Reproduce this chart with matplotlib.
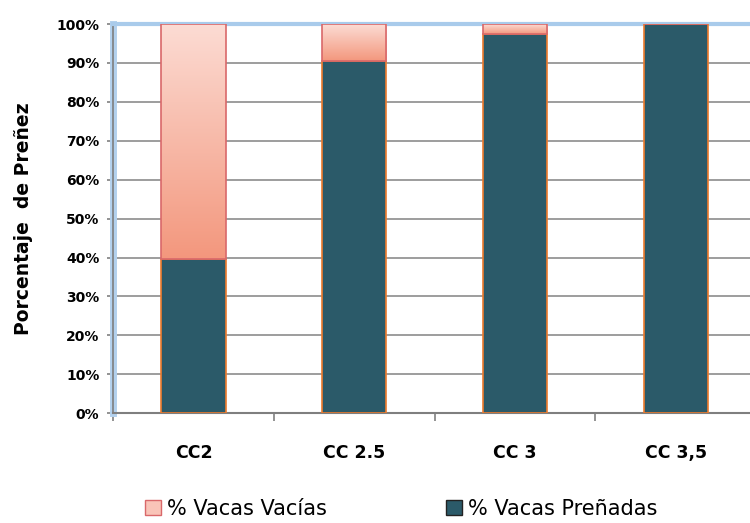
import numpy as np
import matplotlib
matplotlib.use("Agg")
import matplotlib.pyplot as plt
from matplotlib.colors import LinearSegmentedColormap
from matplotlib.patches import Patch

# Datos
categorias = ["CC2", "CC 2.5", "CC 3", "CC 3,5"]
prenadas = [39.5, 90.5, 97.5, 100.0]
vacias = [100 - p for p in prenadas]

col_prenadas = "#2b5a69"
borde_prenadas = "#ee7b2e"
borde_vacias = "#d9686a"
degradado = LinearSegmentedColormap.from_list("vac", ["#f3977d", "#fcdcd4"])

fig = plt.figure(figsize=(7.5, 5.23), dpi=100)
ax = fig.add_axes([0.151, 0.21, 0.857, 0.744])

x = np.arange(len(categorias))
ancho = 0.4

ax.bar(x, prenadas, width=ancho, color=col_prenadas, edgecolor=borde_prenadas,
       linewidth=1.2, zorder=3)
barras_v = ax.bar(x, vacias, width=ancho, bottom=prenadas, color="none",
                  edgecolor=borde_vacias, linewidth=1.2, zorder=4)

# degradado en las barras de vacías
grad = np.linspace(0, 1, 256).reshape(-1, 1)
for b in barras_v:
    if b.get_height() <= 0:
        continue
    x0, y0 = b.get_x(), b.get_y()
    im = ax.imshow(grad, cmap=degradado, aspect="auto", origin="lower",
                   extent=[x0, x0 + b.get_width(), y0, 100], zorder=3.5)
    im.set_clip_path(b)

ax.set_xlim(-0.5, len(categorias) - 0.5)
ax.set_ylim(0, 100)
ax.set_yticks(np.arange(0, 101, 10))
ax.set_yticklabels([f"{v}%" for v in range(0, 101, 10)], fontsize=10, fontweight="bold")
ax.set_xticks(x)
ax.set_xticklabels(categorias, fontsize=12.5, fontweight="bold")
ax.set_xticks(np.arange(-0.5, len(categorias), 1), minor=True)
ax.tick_params(axis="x", which="major", length=0, pad=22)
ax.tick_params(axis="x", which="minor", length=6, color="#808080", width=1.2)
ax.tick_params(axis="y", length=4, color="#808080", width=1.2, pad=6)

ax.grid(axis="y", color="#8c8c8c", linewidth=1.2, zorder=0)
ax.set_axisbelow(True)

ax.spines["right"].set_visible(False)
ax.spines["left"].set_color("#7f7f7f")
ax.spines["left"].set_linewidth(1.2)
ax.spines["bottom"].set_color("#7f7f7f")
ax.spines["bottom"].set_linewidth(1.5)
ax.spines["top"].set_color("#a9cbeb")
ax.spines["top"].set_linewidth(3)
# sombra azul del eje izquierdo
ax.axvline(-0.5, color="#b3d1ee", linewidth=5, zorder=1, clip_on=False)

ax.set_ylabel("Porcentaje  de Preñez", fontsize=13.5, fontweight="bold", labelpad=17)

handles = [Patch(facecolor="#f9c4b8", edgecolor=borde_vacias, label="% Vacas Vacías"),
           Patch(facecolor=col_prenadas, edgecolor="#222222", label="% Vacas Preñadas")]
fig.legend(handles=handles, loc="lower center", bbox_to_anchor=(0.535, -0.028), ncol=2,
           frameon=False, fontsize=15, handlelength=0.75, handleheight=0.75,
           handletextpad=0.3, columnspacing=5.7)

fig.savefig("out.png", dpi=100)
